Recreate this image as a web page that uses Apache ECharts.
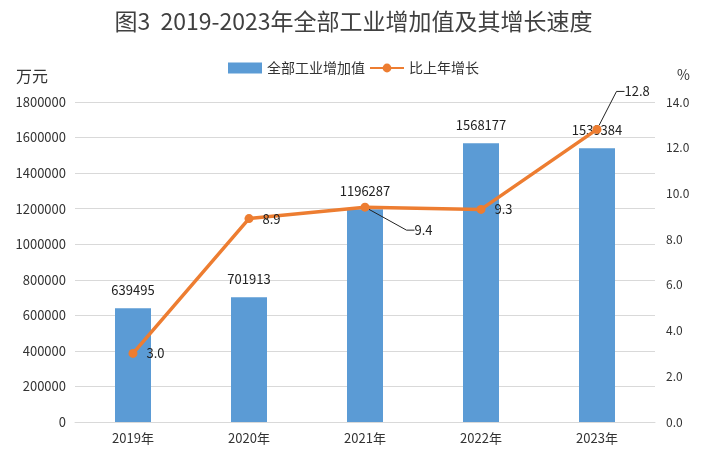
<!DOCTYPE html>
<html><head><meta charset="utf-8">
<script src="https://cdn.jsdelivr.net/npm/echarts@6/dist/echarts.min.js"></script>
<style>html,body{margin:0;padding:0;background:#fff}#c{width:707px;height:464px}</style>
</head><body><div id="c"></div>
<script>
const categories = ['2019年','2020年','2021年','2022年','2023年'];
const industryValue = [639495, 701913, 1196287, 1568177, 1539384];
const growthRate = [3.0, 8.9, 9.4, 9.3, 12.8];
const leftTicks = [0, 1800000, 200000];
const rightTicks = [0, 14, 2];

const font = '"Noto Sans CJK SC", "Microsoft YaHei", sans-serif';
const leaderIdx = [2, 4];
const lineData = growthRate.map((v, i) => ({
  value: v,
  labelLine: {show: leaderIdx.indexOf(i) >= 0}
}));
const chart = echarts.init(document.getElementById('c'));
chart.setOption({
  animation: false,
  textStyle: {fontFamily: font},
  title: {
    text: '图3  2019-2023年全部工业增加值及其增长速度',
    left: 'center', top: 5,
    textStyle: {fontSize: 23, fontWeight: 'normal', color: '#404040', fontFamily: font}
  },
  legend: {
    top: 56, left: 'center', itemGap: 4,
    itemWidth: 34, itemHeight: 11,
    textStyle: {fontSize: 14, color: '#333'},
    data: [
      {name: '全部工业增加值', icon: 'rect'},
      {name: '比上年增长'}
    ]
  },
  grid: {left: 75, right: 52, top: 102, bottom: 42},
  xAxis: {
    type: 'category', data: categories,
    axisLine: {lineStyle: {color: '#d9d9d9'}},
    axisTick: {show: false},
    axisLabel: {color: '#333', fontSize: 13, margin: 10}
  },
  yAxis: [
    {
      type: 'value', name: '万元', min: leftTicks[0], max: leftTicks[1], interval: leftTicks[2],
      nameLocation: 'end', nameGap: 18,
      nameTextStyle: {fontSize: 16, color: '#333', align: 'right', padding: [0, 27, 0, 0]},
      axisLine: {show: false}, axisTick: {show: false},
      axisLabel: {color: '#333', fontSize: 13, margin: 9, formatter: v => String(v)},
      splitLine: {lineStyle: {color: '#d9d9d9'}}
    },
    {
      type: 'value', name: '%', min: rightTicks[0], max: rightTicks[1], interval: rightTicks[2],
      nameLocation: 'end', nameGap: 20,
      nameTextStyle: {fontSize: 14, color: '#333', align: 'left', padding: [0, 0, 0, 22]},
      axisLine: {show: false}, axisTick: {show: false},
      axisLabel: {color: '#333', fontSize: 12, margin: 11, formatter: v => v.toFixed(1)},
      splitLine: {show: false}
    }
  ],
  series: [
    {
      name: '全部工业增加值', type: 'bar', data: industryValue,
      barWidth: 36,
      itemStyle: {color: '#5B9BD5'},
      label: {show: true, position: 'top', distance: 12, color: '#222', fontSize: 13}
    },
    {
      name: '比上年增长', type: 'line', yAxisIndex: 1, data: lineData,
      symbol: 'circle', symbolSize: 9,
      lineStyle: {color: '#ED7D31', width: 3.5},
      itemStyle: {color: '#ED7D31'},
      label: {show: true, position: 'right', distance: 9, color: '#222', fontSize: 13,
        formatter: p => Number(p.value).toFixed(1)},
      labelLine: {length2: 8, lineStyle: {color: '#222', width: 1}},
      labelLayout: function (p) {
        if (p.dataIndex === 2) return {dx: 36, dy: 23};
        if (p.dataIndex === 4) return {dx: 14, dy: -38};
        return {};
      },
      z: 5
    }
  ]
});
</script></body></html>
